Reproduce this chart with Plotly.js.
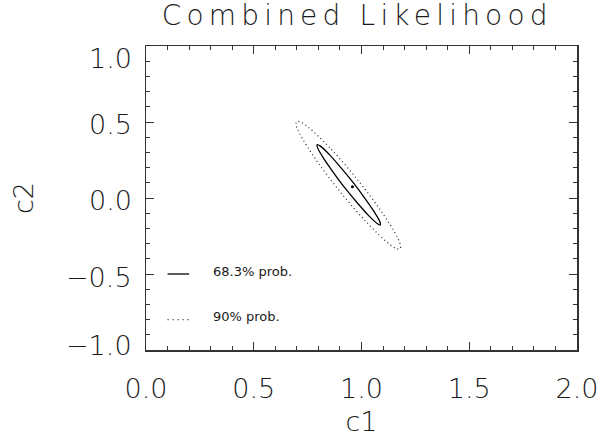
<!DOCTYPE html>
<html>
<head>
<meta charset="utf-8">
<script src="https://cdn.plot.ly/plotly-3.0.1.min.js"></script>
<style>
  html, body { margin: 0; padding: 0; background: #fff; }
  .gtitle { letter-spacing: 5.2px; }
</style>
</head>
<body>
<div id="chart" style="width:610px;height:439px;"></div>
<script>
// ---- data ----
const chartTitle = "Combined Likelihood";
const xTitle = "c1";
const yTitle = "c2";

const xTickVals = [0, 0.5, 1.0, 1.5, 2.0];
const xTickLabels = ["0.0", "0.5", "1.0", "1.5", "2.0"];
const yTickVals = [1.0, 0.5, 0.0, -0.5, -1.0];
const yTickLabels = ["1.0", "0.5", "0.0", "\u22120.5", "\u22121.0"];

// 68.3% contour (solid)
const c1_683 = [0.959, 0.901, 0.850, 0.809, 0.794, 0.797, 0.825, 0.869, 0.923, 0.981, 1.032, 1.073, 1.087, 1.085, 1.057, 1.013, 0.959];
const c2_683 = [0.106, 0.205, 0.287, 0.341, 0.350, 0.328, 0.259, 0.169, 0.066, -0.033, -0.114, -0.168, -0.178, -0.155, -0.087, 0.003, 0.106];

// 90% contour (dotted)
const c1_90 = [0.977, 0.852, 0.750, 0.717, 0.699, 0.697, 0.712, 0.786, 0.901, 1.026, 1.127, 1.160, 1.179, 1.180, 1.166, 1.092, 0.977];
const c2_90 = [0.128, 0.332, 0.469, 0.500, 0.503, 0.478, 0.426, 0.257, 0.041, -0.163, -0.301, -0.332, -0.335, -0.309, -0.257, -0.088, 0.128];

// best-fit point
const bestC1 = [0.958];
const bestC2 = [0.074];

// legend
const legendLabels = ["68.3% prob.", "90% prob."];
const legendLineX = [0.1, 0.2];
const legendRowY = [-0.5, -0.8];
const legendTextX = 0.3;

// ---- styles ----
const FONT = "DejaVu Sans";
const INK = "#1a1a1a";
const AX = "#333333";

const traces = [
  { x: c1_683, y: c2_683, mode: "lines", line: { color: "#000", width: 1.3, shape: "spline", smoothing: 1 }, hoverinfo: "skip" },
  { x: c1_90, y: c2_90, mode: "lines", line: { color: "#222", width: 1.2, shape: "spline", smoothing: 1, dash: "1px,3px" }, hoverinfo: "skip" },
  { x: bestC1, y: bestC2, mode: "markers", marker: { color: "#000", size: 3 }, hoverinfo: "skip" },
  { x: legendLineX, y: [legendRowY[0], legendRowY[0]], mode: "lines", line: { color: "#000", width: 1.3 }, hoverinfo: "skip" },
  { x: legendLineX, y: [legendRowY[1], legendRowY[1]], mode: "lines", line: { color: "#222", width: 1.2, dash: "1px,4px" }, hoverinfo: "skip" }
];

const yLabelShift = [-12, -2, -2, -3, 5];
const annotations = [];
yTickVals.forEach((v, i) => {
  annotations.push({
    xref: "paper", yref: "y", x: 0, y: v, text: yTickLabels[i],
    showarrow: false, xanchor: "right", yanchor: "middle", xshift: -12, yshift: yLabelShift[i],
    font: { family: FONT, size: 27, color: INK, weight: 200 }
  });
});
legendLabels.forEach((t, i) => {
  annotations.push({
    xref: "x", yref: "y", x: legendTextX, y: legendRowY[i], text: t,
    showarrow: false, xanchor: "left", yanchor: "middle", yshift: 3,
    font: { family: FONT, size: 13, color: INK }
  });
});

const axisCommon = {
  showgrid: false, zeroline: false, showline: true, linecolor: AX, linewidth: 1.5,
  mirror: "ticks", ticks: "inside", ticklen: 8, tickwidth: 1, tickcolor: AX,
  minor: { ticks: "inside", ticklen: 4, tickwidth: 1, tickcolor: AX, dtick: 0.1, tick0: 0, showgrid: false },
  fixedrange: true
};

const layout = {
  width: 610, height: 439,
  margin: { l: 146, r: 33, t: 46, b: 89 },
  paper_bgcolor: "#fff", plot_bgcolor: "#fff",
  showlegend: false,
  title: { text: chartTitle, font: { family: FONT, size: 28, color: INK, weight: 200 },
           x: 0.49, xref: "paper", y: 0.966, yref: "container", yanchor: "middle" },
  xaxis: Object.assign({}, axisCommon, {
    range: [0, 2], tickmode: "array", tickvals: xTickVals, ticktext: xTickLabels,
    tickfont: { family: FONT, size: 27, color: INK, weight: 200 }, ticklabelstandoff: 14,
    title: { text: xTitle, font: { family: FONT, size: 27, color: INK, weight: 200 }, standoff: 9 }
  }),
  yaxis: Object.assign({}, axisCommon, {
    range: [-1, 1], tickmode: "array", tickvals: yTickVals, showticklabels: false,
    title: { text: yTitle, font: { family: FONT, size: 27, color: INK, weight: 200 }, standoff: 103 }
  }),
  annotations: annotations
};

Plotly.newPlot("chart", traces, layout, { displayModeBar: false, staticPlot: true });
</script>
</body>
</html>
